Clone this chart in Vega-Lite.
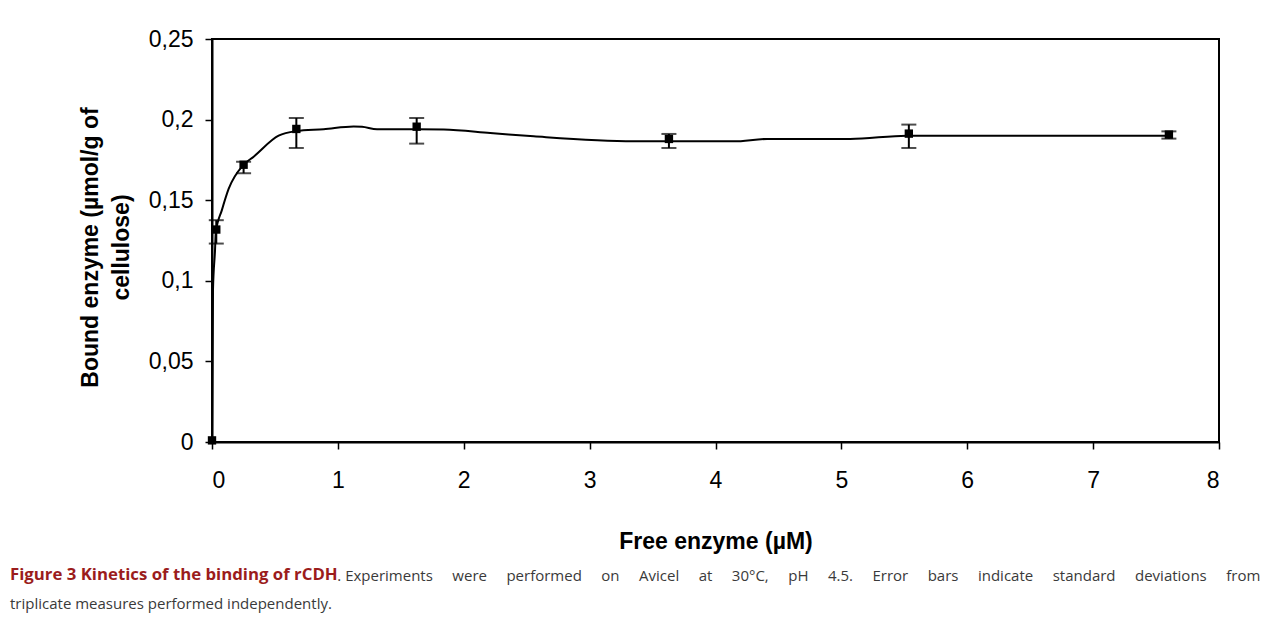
{
  "$schema": "https://vega.github.io/schema/vega-lite/v6.json",
  "width": 1007,
  "height": 403,
  "autosize": {"type": "none"},
  "padding": {"left": 212, "top": 39, "right": 63, "bottom": 180},
  "background": "white",
  "config": {
    "view": {"stroke": "black", "strokeWidth": 2},
    "axis": {
      "domainColor": "black", "domainWidth": 2,
      "tickColor": "black", "tickWidth": 1.5, "tickSize": 7,
      "labelFont": "Liberation Sans", "labelFontSize": 23, "labelColor": "black",
      "titleFont": "Liberation Sans", "titleFontWeight": "bold", "titleFontSize": 23, "titleColor": "black",
      "grid": false
    }
  },
  "title": {
    "text": "Figure 3 Kinetics of the binding of rCDH",
    "subtitle": [
      "\u200b\u00a0\u00a0\u00a0\u00a0\u00a0\u00a0\u00a0\u00a0\u00a0\u00a0\u00a0\u00a0\u00a0\u00a0\u00a0\u00a0\u00a0\u00a0\u00a0\u00a0\u00a0\u00a0\u00a0\u00a0\u00a0\u00a0\u00a0\u00a0\u00a0\u00a0\u00a0\u00a0\u00a0\u00a0\u00a0\u00a0\u00a0\u00a0\u00a0\u00a0\u00a0\u00a0\u00a0\u00a0\u00a0\u00a0\u00a0\u00a0\u00a0\u00a0\u00a0\u00a0\u00a0\u00a0\u00a0\u00a0\u00a0\u00a0\u00a0\u00a0\u00a0\u00a0\u00a0\u00a0\u00a0\u00a0\u00a0\u00a0\u00a0\u00a0\u00a0\u00a0\u00a0\u00a0\u00a0\u00a0\u00a0\u00a0\u00a0\u00a0\u00a0\u00a0\u00a0\u00a0. Experiments \u00a0\u00a0\u00a0\u00a0were \u00a0\u00a0\u00a0\u00a0performed \u00a0\u00a0\u00a0\u00a0on \u00a0\u00a0\u00a0\u00a0Avicel \u00a0\u00a0\u00a0\u00a0at \u00a0\u00a0\u00a0\u00a030°C, \u00a0\u00a0\u00a0\u00a0pH \u00a0\u00a0\u00a0\u00a04.5. \u00a0\u00a0\u00a0\u00a0Error \u00a0\u00a0\u00a0\u00a0bars \u00a0\u00a0\u00a0\u00a0indicate \u00a0\u00a0\u00a0\u00a0standard \u00a0\u00a0\u00a0\u00a0deviations \u00a0\u00a0\u00a0\u00a0from",
      "triplicate measures performed independently."
    ],
    "orient": "bottom",
    "anchor": "start",
    "frame": "group",
    "dx": -202,
    "offset": 14,
    "font": "Open Sans",
    "fontSize": 16.8,
    "fontWeight": "bold",
    "color": "#9b1c1c",
    "subtitleFont": "Open Sans",
    "subtitleFontSize": 15,
    "subtitleColor": "#3a3a3a",
    "subtitleLineHeight": 28,
    "subtitlePadding": -15.3
  },
  "datasets": {
    "curve": [
      {"free": 0, "bound": 0},
      {"free": 0.008, "bound": 0.0946},
      {"free": 0.024, "bound": 0.119},
      {"free": 0.03, "bound": 0.13},
      {"free": 0.079, "bound": 0.144},
      {"free": 0.132, "bound": 0.157},
      {"free": 0.251, "bound": 0.172},
      {"free": 0.331, "bound": 0.177},
      {"free": 0.529, "bound": 0.19},
      {"free": 0.67, "bound": 0.1928},
      {"free": 0.887, "bound": 0.194},
      {"free": 1.125, "bound": 0.1957},
      {"free": 1.192, "bound": 0.1955},
      {"free": 1.311, "bound": 0.194},
      {"free": 1.629, "bound": 0.194},
      {"free": 1.841, "bound": 0.1938},
      {"free": 2.21, "bound": 0.1917},
      {"free": 2.556, "bound": 0.1896},
      {"free": 3.35, "bound": 0.1865},
      {"free": 4.145, "bound": 0.1865},
      {"free": 4.41, "bound": 0.188},
      {"free": 4.81, "bound": 0.188},
      {"free": 5.07, "bound": 0.188},
      {"free": 5.52, "bound": 0.19},
      {"free": 7.59, "bound": 0.19}
    ],
    "points": [
      {"free": 0, "bound": 0.001, "lo": null, "hi": null},
      {"free": 0.034, "bound": 0.1318, "lo": 0.1231, "hi": 0.1376},
      {"free": 0.251, "bound": 0.172, "lo": 0.1667, "hi": 0.1738},
      {"free": 0.67, "bound": 0.1942, "lo": 0.1824, "hi": 0.201},
      {"free": 1.626, "bound": 0.1956, "lo": 0.1851, "hi": 0.201},
      {"free": 3.63, "bound": 0.188, "lo": 0.1824, "hi": 0.1911},
      {"free": 5.536, "bound": 0.1913, "lo": 0.1824, "hi": 0.1969},
      {"free": 7.602, "bound": 0.1907, "lo": 0.1882, "hi": 0.1927}
    ]
  },
  "encoding": {
    "x": {
      "field": "free", "type": "quantitative",
      "scale": {"domain": [0, 8], "nice": false},
      "axis": {"title": "Free enzyme (µM)", "values": [0,1,2,3,4,5,6,7,8], "labelPadding": 20, "titlePadding": 38}
    },
    "y": {
      "field": "bound", "type": "quantitative",
      "scale": {"domain": [0, 0.25], "nice": false},
      "axis": {
        "title": ["Bound enzyme (µmol/g of", "cellulose)"],
        "titleLineHeight": 31,
        "titleY": 208,
        "values": [0, 0.05, 0.1, 0.15, 0.2, 0.25],
        "labelExpr": "replace(format(datum.value, '~g'), '.', ',')",
        "labelPadding": 12,
        "titlePadding": 15
      }
    }
  },
  "layer": [
    {
      "data": {"name": "curve"},
      "mark": {"type": "line", "color": "black", "strokeWidth": 2, "interpolate": "monotone"}
    },
    {
      "data": {"name": "points"},
      "transform": [{"filter": "isValid(datum.lo)"}],
      "mark": {"type": "rule", "color": "black", "strokeWidth": 2},
      "encoding": {"y": {"field": "lo", "type": "quantitative"}, "y2": {"field": "hi"}}
    },
    {
      "data": {"name": "points"},
      "transform": [{"filter": "isValid(datum.lo)"}],
      "mark": {"type": "tick", "orient": "horizontal", "color": "black", "thickness": 2, "size": 15},
      "encoding": {"y": {"field": "lo", "type": "quantitative"}}
    },
    {
      "data": {"name": "points"},
      "transform": [{"filter": "isValid(datum.lo)"}],
      "mark": {"type": "tick", "orient": "horizontal", "color": "black", "thickness": 2, "size": 15},
      "encoding": {"y": {"field": "hi", "type": "quantitative"}}
    },
    {
      "data": {"name": "points"},
      "mark": {"type": "square", "color": "black", "filled": true, "opacity": 1, "size": 70}
    }
  ]
}
